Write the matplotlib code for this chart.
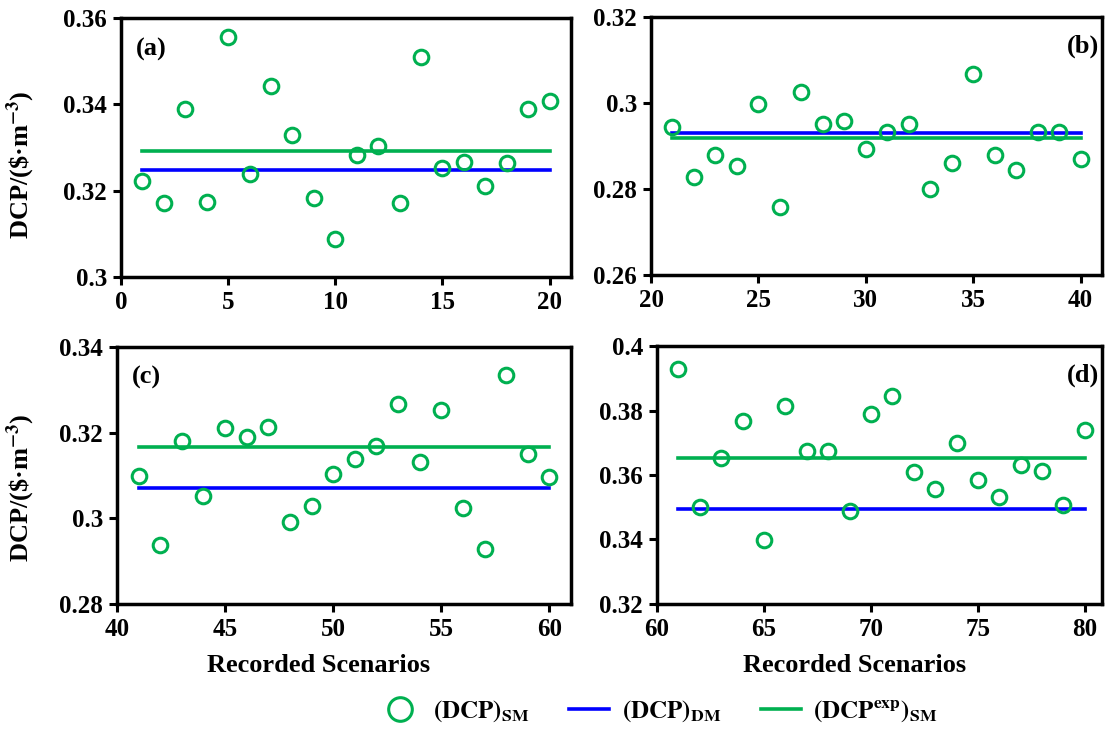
import matplotlib
matplotlib.use("Agg")
import matplotlib.pyplot as plt
from matplotlib.lines import Line2D
from matplotlib.ticker import FuncFormatter

plt.rcParams['font.family'] = ['Liberation Serif', 'DejaVu Serif']
plt.rcParams['font.weight'] = 'bold'
plt.rcParams['mathtext.fontset'] = 'stix'

# scenario numbers and DCP values per panel
x_a = list(range(1, 21))
sm_a = [0.3222, 0.3171, 0.3389, 0.3173, 0.3557, 0.3239, 0.3443, 0.3328, 0.3184, 0.3087,
        0.3283, 0.3303, 0.3171, 0.3509, 0.3252, 0.3266, 0.3211, 0.3263, 0.3389, 0.3407]
dm_a = 0.3248
exp_a = 0.3293

x_b = list(range(21, 41))
sm_b = [0.2944, 0.2828, 0.2879, 0.2854, 0.2997, 0.2758, 0.3025, 0.2951, 0.2958, 0.2892,
        0.2933, 0.2952, 0.2799, 0.2861, 0.3067, 0.2878, 0.2845, 0.2933, 0.2933, 0.2869]
dm_b = 0.2931
exp_b = 0.2918

x_c = list(range(41, 61))
sm_c = [0.3098, 0.2938, 0.3180, 0.3052, 0.3211, 0.3190, 0.3214, 0.2991, 0.3029, 0.3103,
        0.3138, 0.3169, 0.3268, 0.3132, 0.3252, 0.3024, 0.2928, 0.3334, 0.3150, 0.3097]
dm_c = 0.3071
exp_c = 0.3167

x_d = list(range(61, 81))
sm_d = [0.3930, 0.3500, 0.3653, 0.3768, 0.3399, 0.3813, 0.3675, 0.3673, 0.3489, 0.3790,
        0.3845, 0.3608, 0.3557, 0.3700, 0.3585, 0.3532, 0.3630, 0.3613, 0.3508, 0.3741]
dm_d = 0.3495
exp_d = 0.3652

panels = [
    ("(a)", x_a, sm_a, dm_a, exp_a, (0, 21), range(0, 21, 5), (0.30, 0.36), [0.30, 0.32, 0.34, 0.36]),
    ("(b)", x_b, sm_b, dm_b, exp_b, (20, 41), range(20, 41, 5), (0.26, 0.32), [0.26, 0.28, 0.30, 0.32]),
    ("(c)", x_c, sm_c, dm_c, exp_c, (40, 61), range(40, 61, 5), (0.28, 0.34), [0.28, 0.30, 0.32, 0.34]),
    ("(d)", x_d, sm_d, dm_d, exp_d, (60, 80.8), range(60, 81, 5), (0.32, 0.40), [0.32, 0.34, 0.36, 0.38, 0.40]),
]

W, H = 1107, 731
# axes boxes in pixels: left, top, right, bottom
boxes = [(121, 18, 571, 277), (651, 17, 1102, 275), (117, 347, 571, 604), (657, 346, 1102, 604)]

green = '#00B050'
blue = '#0000FF'

fig = plt.figure(figsize=(W / 100, H / 100), dpi=100)

for i, (tag, xs, sm, dm, ex, xl, xt, yl, yt) in enumerate(panels):
    l, t, r, b = boxes[i]
    ax = fig.add_axes([l / W, 1 - b / H, (r - l) / W, (b - t) / H])
    ax.plot([xs[0], xs[-1]], [dm, dm], color=blue, lw=2.6, zorder=2)
    ax.plot([xs[0], xs[-1]], [ex, ex], color=green, lw=2.6, zorder=2)
    ax.plot(xs, sm, 'o', mfc='none', mec=green, ms=10.5, mew=2.2, zorder=3)
    ax.set_xlim(*xl)
    ax.set_ylim(*yl)
    ax.set_xticks(list(xt))
    ax.set_yticks(yt)
    ax.yaxis.set_major_formatter(FuncFormatter(lambda v, p: '%g' % round(v, 4)))
    for s in ax.spines.values():
        s.set_linewidth(2.5)
    ax.tick_params(direction='out', length=6, width=2.2, labelsize=18, pad=4)
    for lab in ax.get_xticklabels() + ax.get_yticklabels():
        lab.set_fontweight('bold')
    if tag in ("(a)", "(c)"):
        ax.text(0.033, 0.88, tag, transform=ax.transAxes, fontsize=19, fontweight='bold',
                va='center', ha='left')
        ax.set_ylabel(r'DCP/(\$·m$^{\mathbf{-3}}$)', fontsize=19, fontweight='bold')
        cy = 165 if tag == "(a)" else 488
        ax.yaxis.set_label_coords((37 - l) / (r - l), 1 - (cy - t) / (b - t))
    else:
        ax.text(0.993, 0.885, tag, transform=ax.transAxes, fontsize=19, fontweight='bold',
                va='center', ha='right')
    if tag in ("(c)", "(d)"):
        ax.set_xlabel('Recorded Scenarios', fontsize=19, fontweight='bold')
        cx = 319 if tag == "(c)" else 855
        ax.xaxis.set_label_coords((cx - l) / (r - l), -(654 - b) / (b - t))

handles = [
    Line2D([], [], ls='none', marker='o', mfc='none', mec=green, ms=17, mew=2.2),
    Line2D([], [], color=blue, lw=2.6),
    Line2D([], [], color=green, lw=2.6),
]
labels = [r'$\mathbf{(DCP)_{SM}}$', r'$\mathbf{(DCP)_{DM}}$', r'$\mathbf{(DCP^{exp})_{SM}}$']
fig.legend(handles, labels, loc='center', bbox_to_anchor=(659 / W, 1 - 711 / H), ncol=3,
           frameon=False, fontsize=18, handlelength=1.6, columnspacing=1.6, handletextpad=0.5)

fig.savefig('out.png', dpi=100)
